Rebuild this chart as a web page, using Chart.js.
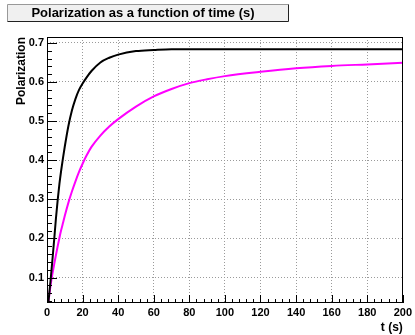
<!DOCTYPE html>
<html>
<head>
<meta charset="utf-8">
<script src="https://cdn.jsdelivr.net/npm/chart.js@4.4.1/dist/chart.umd.min.js"></script>
<style>
  html, body { margin: 0; padding: 0; background: #fff; }
  #chart { display: block; }
</style>
</head>
<body>
<canvas id="chart" width="415" height="335"></canvas>
<script>
// Values (curves start below the axis minimum)
const times = [0, 1, 2, 3, 4, 5, 6, 7, 8, 9, 10, 12, 14, 16, 18, 20, 22, 25, 30, 35, 40,
               50, 60, 70, 80, 90, 100, 120, 140, 160, 180, 200];
const polBlack = [0.0, 0.047, 0.093, 0.143, 0.195, 0.250, 0.298, 0.340, 0.375, 0.406, 0.435,
                  0.487, 0.527, 0.557, 0.580, 0.596, 0.610, 0.628, 0.650, 0.662, 0.670,
                  0.679, 0.682, 0.684, 0.684, 0.684, 0.684, 0.684, 0.684, 0.684, 0.684, 0.684];
const polMagenta = [0.0, 0.045, 0.080, 0.108, 0.133, 0.157, 0.180, 0.202, 0.222, 0.240, 0.258,
                    0.291, 0.320, 0.346, 0.370, 0.391, 0.410, 0.434, 0.463, 0.486, 0.505,
                    0.537, 0.563, 0.582, 0.597, 0.607, 0.615, 0.626, 0.635, 0.641, 0.645, 0.649];
const xTickValues = [0, 20, 40, 60, 80, 100, 120, 140, 160, 180, 200];
const yTickValues = [0.1, 0.2, 0.3, 0.4, 0.5, 0.6, 0.7];
const titleText = 'Polarization as a function of time (s)';

const FONT = '"Liberation Sans", Arial, Helvetica, sans-serif';

function toPoints(ts, vs) {
  return ts.map((t, i) => ({ x: t, y: vs[i] }));
}

// ROOT-like frame, inner ticks and title box
const rootFrame = {
  id: 'rootFrame',
  beforeDraw(chart) {
    const ctx = chart.ctx;
    ctx.save();
    ctx.fillStyle = '#fff';
    ctx.fillRect(0, 0, chart.width, chart.height);
    ctx.restore();
  },
  afterDraw(chart) {
    const ctx = chart.ctx;
    const a = chart.chartArea;
    const xs = chart.scales.x, ys = chart.scales.y;
    ctx.save();
    ctx.strokeStyle = '#000';
    ctx.lineWidth = 1;

    // ticks on the left axis
    ctx.beginPath();
    for (let v = 0.04; v <= ys.max + 1e-9; v += 0.02) {
      const y = Math.round(ys.getPixelForValue(v)) + 0.5;
      const major = Math.abs(v * 10 - Math.round(v * 10)) < 1e-6;
      ctx.moveTo(a.left, y);
      ctx.lineTo(a.left + (major ? 10 : 5), y);
    }
    // ticks on the bottom axis
    for (let v = 0; v <= 200; v += 4) {
      const x = Math.round(xs.getPixelForValue(v)) + 0.5;
      ctx.moveTo(x, a.bottom);
      ctx.lineTo(x, a.bottom - (v % 20 === 0 ? 8 : 4));
    }
    ctx.stroke();

    // frame
    ctx.strokeRect(Math.round(a.left) + 0.5, Math.round(a.top) + 0.5,
                   Math.round(a.right - a.left) - 1, Math.round(a.bottom - a.top) - 1);

    // title box
    const bx = 7.5, by = 4.5, bw = 281, bh = 17;
    ctx.fillStyle = '#f0f0f0';
    ctx.fillRect(bx, by, bw, bh);
    ctx.strokeStyle = '#999';
    ctx.beginPath();
    ctx.moveTo(bx, by + bh); ctx.lineTo(bx, by); ctx.lineTo(bx + bw, by);
    ctx.stroke();
    ctx.strokeStyle = '#222';
    ctx.beginPath();
    ctx.moveTo(bx + bw, by); ctx.lineTo(bx + bw, by + bh); ctx.lineTo(bx, by + bh);
    ctx.stroke();
    ctx.fillStyle = '#000';
    ctx.font = 'bold 13px ' + FONT;
    ctx.textAlign = 'center';
    ctx.textBaseline = 'middle';
    ctx.fillText(titleText, 143, 13.5);
    ctx.restore();
  }
};

new Chart(document.getElementById('chart'), {
  type: 'line',
  data: {
    datasets: [
      {
        label: 'black',
        data: toPoints(times, polBlack),
        borderColor: '#000000',
        borderWidth: 2,
        pointRadius: 0,
        cubicInterpolationMode: 'monotone'
      },
      {
        label: 'magenta',
        data: toPoints(times, polMagenta),
        borderColor: '#ff00ff',
        borderWidth: 2,
        pointRadius: 0,
        cubicInterpolationMode: 'monotone'
      }
    ]
  },
  options: {
    responsive: false,
    animation: false,
    events: [],
    layout: { padding: { top: 37, right: 11, left: 0, bottom: 0 } },
    plugins: {
      legend: { display: false },
      tooltip: { enabled: false },
      title: { display: false }
    },
    scales: {
      x: {
        type: 'linear',
        min: 0,
        max: 200,
        afterBuildTicks: s => { s.ticks = xTickValues.map(v => ({ value: v })); },
        afterFit: s => { s.height = 32; },
        grid: { color: '#9a9a9a', drawTicks: false },
        border: { display: false, dash: [1, 2] },
        ticks: {
          color: '#000',
          font: { family: FONT, size: 11, weight: 'bold' },
          padding: 3,
          maxRotation: 0,
          autoSkip: false
        },
        title: {
          display: true,
          text: 't (s)',
          align: 'end',
          color: '#000',
          font: { family: FONT, size: 12, weight: 'bold' },
          padding: 0
        }
      },
      y: {
        type: 'linear',
        min: 0.035,
        max: 0.715,
        afterBuildTicks: s => { s.ticks = yTickValues.map(v => ({ value: v })); },
        afterFit: s => { s.width = 47; },
        grid: { color: '#9a9a9a', drawTicks: false },
        border: { display: false, dash: [1, 2] },
        ticks: {
          color: '#000',
          font: { family: FONT, size: 11, weight: 'bold' },
          padding: 3,
          autoSkip: false,
          callback: v => v.toFixed(1)
        },
        title: {
          display: true,
          text: 'Polarization',
          align: 'end',
          color: '#000',
          font: { family: FONT, size: 12, weight: 'bold' },
          padding: { top: 14, bottom: 0 }
        }
      }
    }
  },
  plugins: [rootFrame]
});
</script>
</body>
</html>
